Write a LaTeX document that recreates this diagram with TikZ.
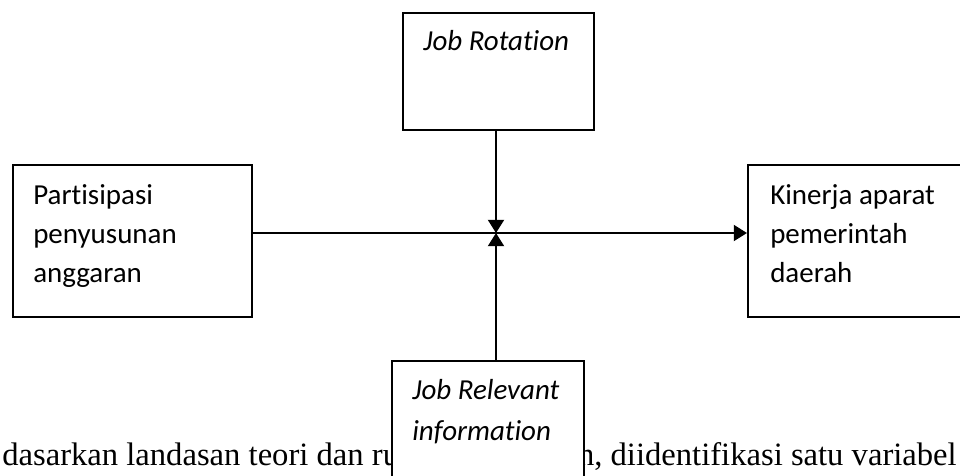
\documentclass[tikz,border=0pt]{standalone}
\usepackage{fontspec}
\setmainfont{Liberation Serif}
\newfontfamily\calfont[Ligatures=NoCommon]{Carlito}
\usepackage{tikz}
\usetikzlibrary{arrows.meta,calc}

\begin{document}
\begin{tikzpicture}[x=0.025cm, y=-0.025cm,
    varbox/.style={draw, line width=0.05cm, fill=white, inner sep=0pt},
    vartext/.style={inner sep=0pt, align=left, font=\calfont\fontsize{20.6pt}{28pt}\selectfont},
    pagetext/.style={inner sep=0pt, font=\fontsize{23.2pt}{27pt}\selectfont},
    arr/.style={line width=0.05cm, -{Triangle[length=0.33cm, width=0.4cm]}}]
    \useasboundingbox (0,0) rectangle (960,475);
    \clip (0,0) rectangle (960,475);

    \node[pagetext, anchor=base west] (pgleft) at (2,465) {dasarkan landasan teori dan ru};
    \node[pagetext, anchor=base east] (pgright) at (957,465) {an, diidentifikasi satu variabel};

    \node[varbox, minimum width=4.775cm, minimum height=2.925cm] (rot) at (498.5,71.5) {};
    \node[varbox, minimum width=5.975cm, minimum height=3.8cm] (part) at (132.5,241) {};
    \node[varbox, minimum width=6.5cm, minimum height=3.8cm] (kin) at (878,241) {};
    \node[varbox, minimum width=4.8cm, minimum height=3.25cm] (jri) at (488,426) {};

    \node[vartext, anchor=base west] (rottext) at (423,50) {\itshape Job Rotation};
    \node[vartext, anchor=north west] (parttext) at (33,184) {Partisipasi\\penyusunan\\anggaran};
    \node[vartext, anchor=north west] (kintext) at (770,184) {Kinerja aparat\\pemerintah\\daerah};
    \node[vartext, anchor=north west, font=\calfont\fontsize{20.6pt}{29.2pt}\selectfont\itshape] (jritext) at (412,379) {Job Relevant\\information};

    \coordinate (hub) at (496,233);
    \draw[arr] (part.east |- hub) -- (kin.west |- hub);
    \draw[arr] (rot.south -| hub) -- (hub);
    \draw[arr] (jri.north -| hub) -- (hub);
\end{tikzpicture}
\end{document}
